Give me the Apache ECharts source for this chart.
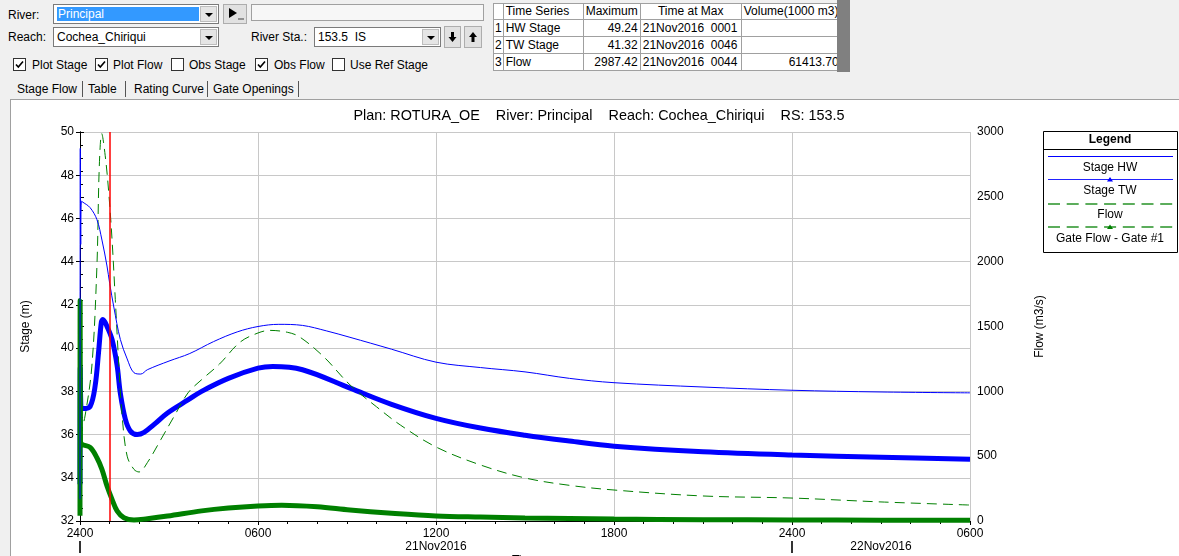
<!DOCTYPE html>
<html>
<head>
<meta charset="utf-8">
<script src="https://cdn.jsdelivr.net/npm/echarts@6.0.0/dist/echarts.min.js"></script>
<style>
html,body{margin:0;padding:0}
body{width:1179px;height:556px;overflow:hidden;background:#f0f0f0;font-family:"Liberation Sans",Arial,sans-serif;font-size:12px;color:#000;position:relative}
.a{position:absolute;white-space:nowrap;line-height:14px}
.box{position:absolute;box-sizing:border-box;background:#fff;border:1px solid #7a7a7a}
.dd{position:absolute;top:1px;bottom:1px;right:1px;width:17px;background:#e5e5e5;border:1px solid #bdbdbd;box-sizing:border-box}
.dd:after{content:"";position:absolute;left:4px;top:6px;border-left:4px solid transparent;border-right:4px solid transparent;border-top:4px solid #000}
.btn{position:absolute;box-sizing:border-box;background:#e1e1e1;border:1px solid #adadad}
.cb{position:absolute;box-sizing:border-box;width:13px;height:13px;background:#fff;border:1px solid #333}
.sep{position:absolute;top:81px;width:1px;height:16px;background:#555}
table.ts{position:absolute;left:493px;top:3px;border-collapse:collapse;background:#fff;table-layout:fixed}
table.ts td{border:1px solid #a0a0a0;height:16px;padding:0 2px;font-size:12px;line-height:16px;white-space:nowrap;overflow:hidden}
table.ts tr.h td{height:15px;line-height:15px}
#panel{position:absolute;left:10px;top:99px;width:1169px;height:457px;border-left:1px solid #a0a0a0;border-top:1px solid #a0a0a0;background:#fff}
#chart{position:absolute;left:11px;top:100px;width:1168px;height:456px}
</style>
</head>
<body>
<!-- top controls -->
<div class="a" style="left:8px;top:8px">River:</div>
<div class="box" style="left:53px;top:4px;width:166px;height:20px">
  <div style="position:absolute;left:3px;top:2px;width:141px;height:14px;background:#3399ff;color:#fff;line-height:14px;padding-left:1px">Principal</div>
  <div class="dd"></div>
</div>
<div class="btn" style="left:223px;top:4px;width:24px;height:20px">
  <svg width="22" height="18" style="position:absolute;left:0;top:0"><polygon points="5,3 5,13 13,8" fill="#000"/><circle cx="15" cy="14" r="0.7" fill="#000"/><circle cx="17" cy="14" r="0.7" fill="#000"/><circle cx="19" cy="14" r="0.7" fill="#000"/></svg>
</div>
<div class="box" style="left:251px;top:4px;width:233px;height:17px;background:#f7f7f7;border-color:#a0a0a0"></div>

<div class="a" style="left:8px;top:30px">Reach:</div>
<div class="box" style="left:53px;top:27px;width:166px;height:20px"><div class="a" style="left:3px;top:2px">Cochea_Chiriqui</div><div class="dd"></div></div>
<div class="a" style="left:251px;top:30px">River Sta.:</div>
<div class="box" style="left:314px;top:27px;width:127px;height:20px"><div class="a" style="left:3px;top:2px">153.5&nbsp;&nbsp;IS</div><div class="dd"></div></div>
<div class="btn" style="left:444px;top:26px;width:17px;height:22px">
  <svg width="15" height="20" style="position:absolute;left:0;top:0"><rect x="6" y="5" width="3" height="6" fill="#000"/><polygon points="3.5,10 11.5,10 7.5,15" fill="#000"/></svg>
</div>
<div class="btn" style="left:464px;top:26px;width:18px;height:22px">
  <svg width="16" height="20" style="position:absolute;left:0;top:0"><rect x="6.5" y="9" width="3" height="6" fill="#000"/><polygon points="4,10 12,10 8,5" fill="#000"/></svg>
</div>

<!-- checkboxes -->
<div class="cb" style="left:13px;top:58px"><svg width="11" height="11" style="position:absolute;left:0;top:0"><polyline points="2,5.5 4.3,8 9,2.5" fill="none" stroke="#000" stroke-width="1.6"/></svg></div>
<div class="a" style="left:32px;top:58px">Plot Stage</div>
<div class="cb" style="left:95px;top:58px"><svg width="11" height="11" style="position:absolute;left:0;top:0"><polyline points="2,5.5 4.3,8 9,2.5" fill="none" stroke="#000" stroke-width="1.6"/></svg></div>
<div class="a" style="left:113px;top:58px">Plot Flow</div>
<div class="cb" style="left:171px;top:58px"></div>
<div class="a" style="left:189px;top:58px">Obs Stage</div>
<div class="cb" style="left:255px;top:58px"><svg width="11" height="11" style="position:absolute;left:0;top:0"><polyline points="2,5.5 4.3,8 9,2.5" fill="none" stroke="#000" stroke-width="1.6"/></svg></div>
<div class="a" style="left:274px;top:58px">Obs Flow</div>
<div class="cb" style="left:332px;top:58px"></div>
<div class="a" style="left:350px;top:58px">Use Ref Stage</div>

<!-- tabs -->
<div class="a" style="left:17px;top:82px">Stage Flow</div>
<div class="sep" style="left:82px"></div>
<div class="a" style="left:88px;top:82px">Table</div>
<div class="sep" style="left:125px"></div>
<div class="a" style="left:134px;top:82px">Rating Curve</div>
<div class="sep" style="left:207px"></div>
<div class="a" style="left:213px;top:82px">Gate Openings</div>
<div class="sep" style="left:298px"></div>

<!-- summary table -->
<table class="ts">
  <colgroup><col style="width:7px"><col style="width:80px"><col style="width:56px"><col style="width:101px"><col style="width:100px"></colgroup>
  <tr class="h"><td style="padding:0"></td><td>Time Series</td><td>Maximum</td><td style="text-align:center">Time at Max</td><td>Volume(1000 m3)</td></tr>
  <tr><td style="padding:0 1px">1</td><td>HW Stage</td><td style="text-align:right">49.24</td><td>21Nov2016&nbsp;&nbsp;0001</td><td></td></tr>
  <tr><td style="padding:0 1px">2</td><td>TW Stage</td><td style="text-align:right">41.32</td><td>21Nov2016&nbsp;&nbsp;0046</td><td></td></tr>
  <tr><td style="padding:0 1px">3</td><td>Flow</td><td style="text-align:right">2987.42</td><td>21Nov2016&nbsp;&nbsp;0044</td><td style="text-align:right">61413.70</td></tr>
</table>
<div style="position:absolute;left:837px;top:0;width:13px;height:72px;background:#808080"></div>

<div id="panel"></div>
<div id="chart"></div>

<script>
// ---- data (time in hours from 21Nov2016 0000) ----
const hwTime  = [0, 0.01, 0.025, 0.05, 0.1, 0.34, 0.57, 0.74, 0.91, 1.0, 1.14, 1.36, 1.59, 1.82, 2.05, 2.27, 3.0, 3.7, 4.5, 5.3, 6.0, 6.7, 7.5, 8.3, 9.1, 10.5, 12, 13.5, 15, 16.5, 18, 21, 24, 27, 30];
const hwStage = [33.0, 49.24, 44.8, 46.8, 46.75, 46.5, 45.95, 45.0, 43.8, 43.0, 41.9, 40.4, 39.5, 38.86, 38.8, 39.0, 39.4, 39.75, 40.3, 40.75, 41.0, 41.1, 41.05, 40.8, 40.5, 39.95, 39.35, 39.1, 38.9, 38.6, 38.4, 38.2, 38.05, 37.97, 37.93];

const twTime  = [0, 0.01, 0.03, 0.1, 0.34, 0.51, 0.625, 0.72, 0.77, 0.91, 1.08, 1.25, 1.36, 1.53, 1.7, 1.93, 2.16, 2.5, 2.95, 3.64, 4.1, 5.0, 6.0, 6.5, 7.5, 9.1, 10.5, 12, 13.5, 15, 16.5, 18, 21, 24, 27, 30];
const twStage = [33.7, 39.1, 37.3, 37.2, 37.3, 38.25, 39.8, 41.2, 41.32, 41.0, 40.4, 39.2, 37.9, 36.7, 36.16, 36.0, 36.1, 36.47, 37.0, 37.6, 38.0, 38.6, 39.07, 39.15, 39.0, 38.15, 37.4, 36.75, 36.3, 35.97, 35.7, 35.46, 35.2, 35.05, 34.95, 34.86];

const flowTime  = [0, 0.17, 0.4, 0.57, 0.65, 0.733, 0.85, 0.97, 1.08, 1.19, 1.31, 1.42, 1.59, 1.82, 1.99, 2.27, 2.73, 3.18, 3.64, 4.1, 4.7, 5.4, 6.0, 6.4, 7.0, 7.4, 8.2, 9.1, 10.0, 10.8, 12, 13.5, 15, 16.5, 18, 21, 24, 27, 30];
const flowValue = [650, 810, 1195, 1965, 2733, 2987, 2817, 2530, 2170, 1708, 1195, 810, 500, 398, 378, 450, 630, 810, 988, 1090, 1210, 1380, 1450, 1470, 1455, 1420, 1270, 1050, 880, 740, 571, 432, 332, 275, 239, 193, 177, 147, 123];

const gateTime = [0, 0.005, 0.015, 0.06, 0.34, 0.57, 0.74, 0.91, 1.08, 1.25, 1.48, 1.82, 2.27, 2.95, 4.1, 5.0, 6.0, 6.8, 8.0, 9.1, 10.5, 12, 13.5, 15, 18, 21, 24, 27, 30];
const gateFlow = [40, 1700, 620, 592, 567, 488, 398, 270, 167, 78, 25, 8, 18, 38, 78, 100, 116, 122, 110, 85, 60, 39, 30, 23, 15, 10, 8, 6, 5];

const currentTime = 1;   // red time cursor (hours)
const timeTickLabels = ['2400', '0600', '1200', '1800', '2400', '0600'];
const dateLabels = ['21Nov2016', '22Nov2016'];
const legendNames = ['Stage HW', 'Stage TW', 'Flow', 'Gate Flow - Gate #1'];

const FONT = '"Liberation Sans", Arial, sans-serif';
const pairs = (t, v) => t.map((x, i) => [x, v[i]]);

// legend box (container coordinates)
const LX = 1032, LY = 31, LW = 134, LH = 121, LC = LX + LW / 2;
const lineX1 = 1037, lineX2 = 1162;
let gid = 0;
function txt(y, s, bold) {
  return {type: 'text', id: 'g' + (gid++), x: LC, y: y, style: {text: s, font: (bold ? 'bold ' : '') + '12px ' + FONT, fill: '#000', align: 'center', verticalAlign: 'middle', textAlign: 'center', textVerticalAlign: 'middle'}};
}
function hline(y, color, width, dash) {
  const st = {stroke: color, lineWidth: width};
  if (dash) st.lineDash = dash;
  return {type: 'line', id: 'g' + (gid++), shape: {x1: lineX1, y1: y, x2: lineX2, y2: y}, style: st};
}
function tri(y, color) {
  return {type: 'polygon', id: 'g' + (gid++), shape: {points: [[LC - 3, y + 2], [LC + 3, y + 2], [LC, y - 2.5]]}, style: {fill: color}};
}

const chart = echarts.init(document.getElementById('chart'));
chart.setOption({
  animation: false,
  backgroundColor: '#fff',
  textStyle: {fontFamily: FONT},
  title: {
    text: 'Plan: ROTURA_OE    River: Principal    Reach: Cochea_Chiriqui    RS: 153.5',
    left: 583, top: 4, textAlign: 'center',
    textStyle: {fontSize: 14.4, fontWeight: 'normal', color: '#000', fontFamily: FONT}
  },
  grid: {left: 69, right: 209, top: 32, bottom: 35, outerBoundsMode: 'none', containLabel: false},
  xAxis: [{
    type: 'value', min: 0, max: 30, interval: 6,
    axisLine: {lineStyle: {color: '#000'}},
    axisTick: {length: 4, lineStyle: {color: '#000'}},
    minorTick: {show: true, splitNumber: 6, length: 3, lineStyle: {color: '#000'}},
    axisLabel: {margin: 7, fontSize: 12, color: '#000', fontFamily: FONT, showMinLabel: true, showMaxLabel: true,
      formatter: v => timeTickLabels[Math.round(v / 6)]},
    splitLine: {show: true, lineStyle: {color: '#c8c8c8'}},
    name: 'Time', nameLocation: 'middle', nameGap: 34,
    nameTextStyle: {fontSize: 12, color: '#000', fontFamily: FONT}
  }, {
    type: 'value', min: 0, max: 30, position: 'bottom', offset: 20,
    axisLine: {show: false},
    axisTick: {show: true, customValues: [0, 24], length: 12, lineStyle: {color: '#333', width: 2}},
    axisLabel: {customValues: [12, 27], margin: 0, fontSize: 12, color: '#000', fontFamily: FONT,
      formatter: v => (v < 20 ? dateLabels[0] : dateLabels[1])},
    splitLine: {show: false}
  }],
  yAxis: [{
    type: 'value', min: 32, max: 50, interval: 2, position: 'left',
    axisLine: {show: true, lineStyle: {color: '#000'}},
    axisTick: {show: true, length: 4, lineStyle: {color: '#000'}},
    axisLabel: {margin: 6, fontSize: 12, color: '#000', fontFamily: FONT, formatter: v => String(v)},
    splitLine: {show: true, lineStyle: {color: '#c8c8c8'}},
    name: 'Stage (m)', nameLocation: 'middle', nameGap: 48, nameRotate: 90,
    nameTextStyle: {fontSize: 12, color: '#000', fontFamily: FONT}
  }, {
    type: 'value', min: 0, max: 3000, interval: 500, position: 'right',
    axisLine: {show: true, lineStyle: {color: '#000'}},
    axisTick: {show: true, length: 4, lineStyle: {color: '#000'}},
    minorTick: {show: true, splitNumber: 5, length: 3, lineStyle: {color: '#000'}},
    axisLabel: {margin: 7, fontSize: 12, color: '#000', fontFamily: FONT, formatter: v => String(v)},
    splitLine: {show: false},
    name: 'Flow (m3/s)', nameLocation: 'middle', nameGap: 64, nameRotate: 90,
    nameTextStyle: {fontSize: 12, color: '#000', fontFamily: FONT}
  }],
  series: [{
    name: legendNames[0], type: 'line', xAxisIndex: 0, yAxisIndex: 0,
    data: pairs(hwTime, hwStage), symbol: 'none', smooth: 0.35, z: 4,
    lineStyle: {color: '#0000ff', width: 1}, itemStyle: {color: '#0000ff'}
  }, {
    name: legendNames[1], type: 'line', xAxisIndex: 0, yAxisIndex: 0,
    data: pairs(twTime, twStage), symbol: 'none', smooth: 0.35, z: 3,
    lineStyle: {color: '#0000ff', width: 5}, itemStyle: {color: '#0000ff'}
  }, {
    name: legendNames[2], type: 'line', xAxisIndex: 0, yAxisIndex: 1,
    data: pairs(flowTime, flowValue), symbol: 'none', smooth: 0.35, z: 3,
    lineStyle: {color: '#008000', width: 1, type: [10, 6]}, itemStyle: {color: '#008000'}
  }, {
    name: legendNames[3], type: 'line', xAxisIndex: 0, yAxisIndex: 1,
    data: pairs(gateTime, gateFlow), symbol: 'none', smooth: 0.35, z: 3, clip: false,
    lineStyle: {color: '#008000', width: 5}, itemStyle: {color: '#008000'}
  }, {
    name: 'cursor', type: 'line', xAxisIndex: 0, yAxisIndex: 0, data: [], z: 5,
    markLine: {silent: true, symbol: ['none', 'none'], label: {show: false}, animation: false,
      lineStyle: {color: '#ff0000', width: 1.5, type: 'solid', opacity: 1},
      data: [{xAxis: currentTime}]}
  }],
  graphic: [
    {type: 'rect', id: 'lgbox', shape: {x: LX + 0.5, y: LY + 0.5, width: LW, height: LH}, style: {fill: '#fff', stroke: '#000', lineWidth: 1}},
    txt(40, 'Legend', true),
    {type: 'line', id: 'lgsep', shape: {x1: LX, y1: 49.5, x2: LX + LW, y2: 49.5}, style: {stroke: '#000', lineWidth: 1}},
    hline(56.5, '#0000ff', 1),
    txt(68, legendNames[0]),
    hline(79.5, '#2222ff', 1.2),
    tri(79.5, '#0000ff'),
    txt(91, legendNames[1]),
    hline(104, '#5cad5c', 2, [12, 6.7]),
    txt(115, legendNames[2]),
    hline(127, '#5cad5c', 2, [12, 6.7]),
    tri(127, '#008000'),
    txt(139, legendNames[3])
  ]
});
</script>
</body>
</html>
